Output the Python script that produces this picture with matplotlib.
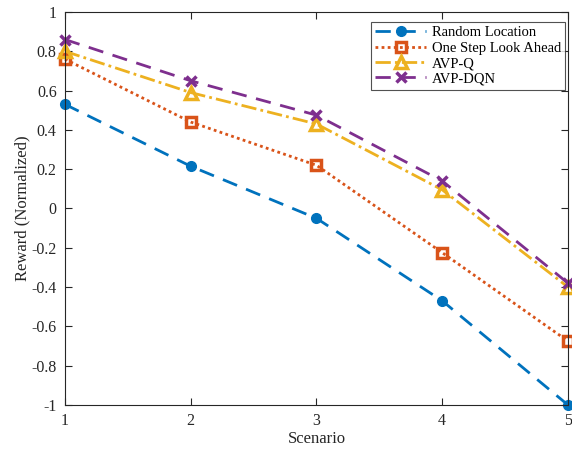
import matplotlib
matplotlib.use("Agg")
import matplotlib.pyplot as plt
import numpy as np

scenarios = [1, 2, 3, 4, 5]
random_loc = [0.53, 0.215, -0.05, -0.47, -1.0]
one_step = [0.76, 0.44, 0.22, -0.225, -0.675]
avp_q = [0.80, 0.59, 0.43, 0.095, -0.40]
avp_dqn = [0.86, 0.65, 0.475, 0.14, -0.38]
yticks = [-1, -0.8, -0.6, -0.4, -0.2, 0, 0.2, 0.4, 0.6, 0.8, 1]
ytick_labels = ["-1", "-0.8", "-0.6", "-0.4", "-0.2", "0", "0.2", "0.4", "0.6", "0.8", "1"]

plt.rcParams['font.family'] = ['Liberation Serif', 'DejaVu Serif']
plt.rcParams['font.size'] = 11

fig = plt.figure(figsize=(5.72, 4.53), dpi=100)
ax = fig.add_axes([0.1136, 0.106, 0.8794, 0.8675])

c1, c2, c3, c4 = '#0072BD', '#D95319', '#EDB120', '#7E2F8E'
ax.plot(scenarios, random_loc, linestyle=(0, (5.5, 3.5)), color=c1, lw=2,
        marker='o', ms=7, mfc=c1, mec=c1, label='Random Location', clip_on=False)
ax.plot(scenarios, one_step, linestyle=(0, (1, 1.2)), color=c2, lw=2,
        marker='s', ms=7, mfc='none', mec=c2, mew=2.5, label='One Step Look Ahead', clip_on=False)
ax.plot(scenarios, avp_q, linestyle=(0, (5.5, 1.5, 1, 1.5)), color=c3, lw=2,
        marker='^', ms=9, mfc='none', mec=c3, mew=2.5, label='AVP-Q', clip_on=False)
ax.plot(scenarios, avp_dqn, linestyle=(0, (5.5, 3.5)), color=c4, lw=2,
        marker='x', ms=7, mec=c4, mew=2.5, label='AVP-DQN', clip_on=False)

ax.set_xlim(1, 5)
ax.set_ylim(-1, 1)
ax.set_xticks(scenarios)
ax.set_yticks(yticks)
ax.set_yticklabels(ytick_labels)
ax.tick_params(direction='in', top=True, right=True, length=5, width=0.8,
               colors='#262626', labelsize=11.5, labelcolor='#262626', pad=6)
for s in ax.spines.values():
    s.set_color('#262626')
    s.set_linewidth(0.8)
ax.set_xlabel('Scenario', fontsize=12, color='#262626', labelpad=1)
ax.set_ylabel('Reward (Normalized)', fontsize=12, color='#262626', labelpad=0.5)

leg = ax.legend(loc='upper right', bbox_to_anchor=(0.995, 0.975), fontsize=10.5,
                frameon=True, fancybox=False, edgecolor='#262626', handlelength=3.5,
                borderpad=0.3, labelspacing=0.15, handletextpad=0.4, borderaxespad=0)
leg.get_frame().set_linewidth(0.8)

fig.savefig('out.png', dpi=100)
